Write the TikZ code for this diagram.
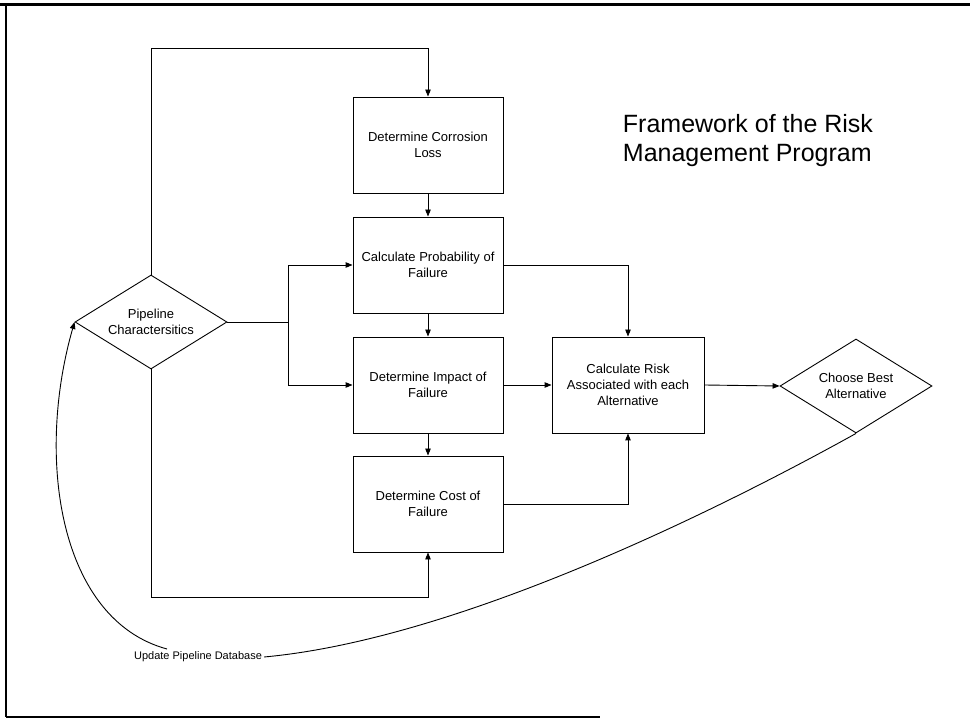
\documentclass[tikz,border=0pt]{standalone}
\usepackage{fontspec}
\setmainfont{Liberation Sans}
\usetikzlibrary{shapes.geometric,arrows.meta}
\begin{document}
\begin{tikzpicture}[x=1pt,y=-1pt,
  stepbox/.style={draw,line width=0.9pt,minimum width=150pt,minimum height=96pt,inner sep=0pt,align=center,font=\fontsize{13}{16}\selectfont},
  decision/.style={draw,line width=0.9pt,diamond,aspect=1.6,minimum width=152pt,minimum height=94pt,inner sep=0pt,align=center,font=\fontsize{13}{16}\selectfont},
  conn/.style={line width=0.9pt},
  arr/.style={conn,-{Triangle[length=7pt,width=5.5pt]}}]
\useasboundingbox (0,0) rectangle (970,719);
% frame
\draw[line width=3pt] (0,5) -- (970,5);
\draw[line width=2pt] (6,5) -- (6,717);
\draw[line width=1.5pt] (6,717) -- (600,717);
% nodes
\node[stepbox] (corr) at (428,145) {Determine Corrosion\\Loss};
\node[stepbox] (prob) at (428,265) {Calculate Probability of\\Failure};
\node[stepbox] (impact) at (428,385) {Determine Impact of\\Failure};
\node[stepbox] (cost) at (428,504) {Determine Cost of\\Failure};
\node[stepbox,minimum width=152pt] (risk) at (628,385) {Calculate Risk\\Associated with each\\Alternative};
\node[decision] (pipe) at (151,322) {Pipeline\\Charactersitics};
\node[decision] (choose) at (856,386) {Choose Best\\Alternative};
\node[align=left,font=\fontsize{25}{29}\selectfont] (title) at (748,141) {Framework of the Risk\\Management Program};
\node[font=\fontsize{11}{13}\selectfont,inner sep=2pt] (upd) at (198,657) {Update Pipeline Database};
% helper coordinates
\coordinate (topy) at (0,48);
\coordinate (boty) at (0,597);
\coordinate (splitx) at (288,0);
\coordinate (c1) at (167,649);
% connectors
\draw[arr] (pipe.north) |- (topy -| corr.north) -- (corr.north);
\draw[arr] (corr.south) -- (prob.north);
\draw[arr] (prob.south) -- (impact.north);
\draw[arr] (impact.south) -- (cost.north);
\draw[conn] (pipe.east) -- (pipe.east -| splitx);
\draw[arr] (pipe.east -| splitx) |- (prob.west);
\draw[arr] (pipe.east -| splitx) |- (impact.west);
\draw[arr] (prob.east) -| (risk.north);
\draw[arr] (impact.east) -- (risk.west);
\draw[arr] (cost.east) -| (risk.south);
\draw[arr] (risk.east) -- (choose.west);
\draw[arr] (pipe.south) |- (boty -| cost.south) -- (cost.south);
\draw[conn] (choose.south) .. controls (700,520) and (450,640) .. (upd.east);
\draw[arr] (c1) .. controls (60,620) and (35,460) .. (pipe.west);
\end{tikzpicture}
\end{document}
